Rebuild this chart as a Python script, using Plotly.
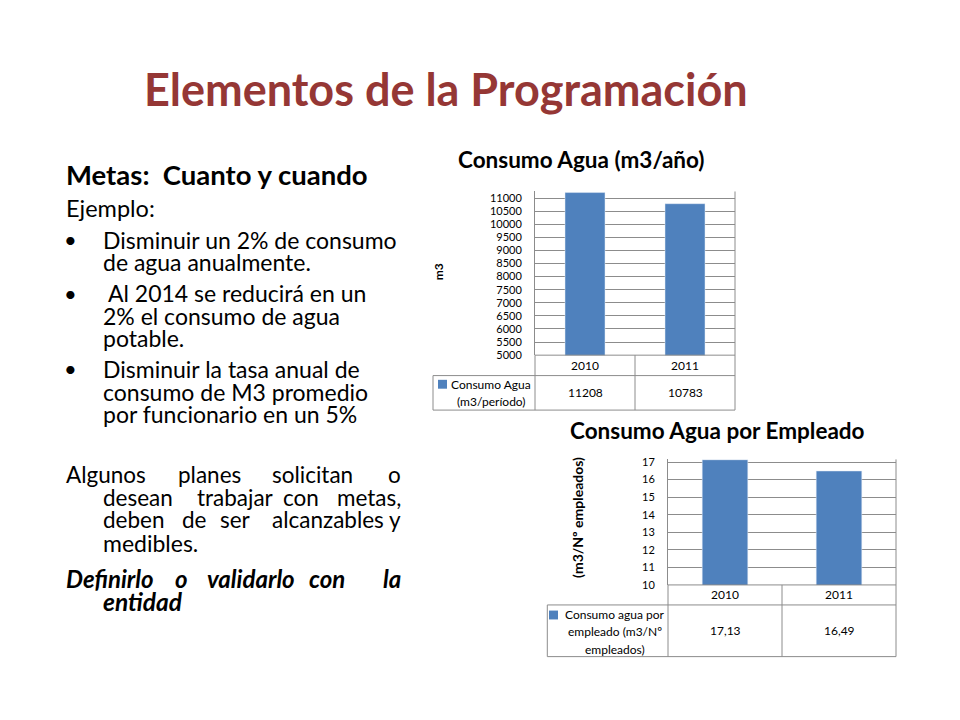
import plotly.graph_objects as go

# ---------------- data ----------------
years = ["2010", "2011"]
consumo_agua = [11208, 10783]          # m3 / periodo
consumo_empleado = [17.13, 16.49]      # m3 / Nº empleados

title_main = "Elementos de la Programación"
chart1_title = "Consumo Agua (m3/año)"
chart1_ytitle = "m3"
chart1_series = ["Consumo Agua", "(m3/período)"]
chart2_title = "Consumo Agua por Empleado"
chart2_ytitle = "(m3/Nº empleados)"
chart2_series = ["Consumo agua por", "empleado (m3/Nº", "empleados)"]

W, H = 960, 720
OFF = 8  # browser body margin
BLUE = "#4F81BD"
GRID = "#8C8C8C"
RED = "#953735"
FONT = "Lato"


def px(x):
    return (x - OFF) / W


def py(y):
    return 1 - (y - OFF) / H


fig = go.Figure()

c1 = dict(l=535, r=735, t=190, b=356, row1=376.7, row2=411.7, tl=433)
c2 = dict(l=668, r=896, t=461.7, b=589, row1=609.3, row2=661.7, tl=547.3)

fig.add_trace(go.Bar(x=years, y=consumo_agua, marker_color=BLUE, xaxis="x", yaxis="y",
                     showlegend=False, hoverinfo="skip"))
fig.add_trace(go.Bar(x=years, y=consumo_empleado, marker_color=BLUE, xaxis="x2", yaxis="y2",
                     showlegend=False, hoverinfo="skip"))

axis_common = dict(showgrid=True, gridcolor=GRID, gridwidth=1, showline=True, linecolor=GRID,
                   linewidth=1, ticks="", zeroline=False, tickformat="d",
                   ticklabelstandoff=10,
                   tickfont=dict(family=FONT, size=11, color="#000"))
xcommon = dict(type="category", showticklabels=False, showgrid=False, showline=False,
               zeroline=False, range=[-0.5, 1.5])

fig.update_layout(
    width=W, height=H, margin=dict(l=0, r=0, t=0, b=0),
    paper_bgcolor="white", plot_bgcolor="white", bargap=0.6,
    xaxis=dict(domain=[px(c1["l"]), px(c1["r"])], anchor="y", **xcommon),
    yaxis=dict(domain=[py(c1["b"]), py(c1["t"])], anchor="x", range=[5000, 11250],
               dtick=500, tick0=5000, **axis_common),
    xaxis2=dict(domain=[px(c2["l"]), px(c2["r"])], anchor="y2", **xcommon),
    yaxis2=dict(domain=[py(c2["b"]), py(c2["t"])], anchor="x2", range=[10, 17.15],
                dtick=1, tick0=10, **axis_common),
)

shapes = []
annotations = []


def line(x0, y0, x1, y1, xref="paper"):
    shapes.append(dict(type="line", xref=xref, yref="paper", x0=x0, x1=x1, y0=y0, y1=y1,
                       line=dict(color=GRID, width=1)))


def ann(x, y, s, size, anchor="center", xref="paper", angle=0, color="#000"):
    annotations.append(dict(x=x, xref=xref, y=y, yref="paper", text=s, showarrow=False,
                            xanchor=anchor, yanchor="middle", textangle=angle,
                            borderpad=0, borderwidth=0,
                            font=dict(family=FONT, size=size, color=color)))


def table(c, xref, values, fmt, series_lines, row2_lines_y, fs):
    line(px(c["l"]), py(c["b"]), px(c["r"]), py(c["b"]))
    line(px(c["tl"]), py(c["row1"]), px(c["r"]), py(c["row1"]))
    line(px(c["tl"]), py(c["row2"]), px(c["r"]), py(c["row2"]))
    line(px(c["tl"]), py(c["row1"]), px(c["tl"]), py(c["row2"]))
    line(px(c["l"]), py(c["b"]), px(c["l"]), py(c["row2"]))
    line(px(c["r"]), py(c["t"]), px(c["r"]), py(c["row2"]))
    line(0.5, py(c["b"]), 0.5, py(c["row2"]), xref=xref)
    mid1 = (c["b"] + c["row1"]) / 2
    mid2 = (c["row1"] + c["row2"]) / 2
    for i, (yr, v) in enumerate(zip(years, values)):
        ann(i, py(mid1), yr, fs, xref=xref)
        ann(i, py(mid2), fmt(v), fs, xref=xref)
    cx = (c["tl"] + 10 + c["l"]) / 2 + 2
    for t, yy in zip(series_lines, row2_lines_y):
        ann(px(cx), py(yy), t, fs)


table(c1, "x", consumo_agua, lambda v: f"{v}", chart1_series, [386, 403], 12)
table(c2, "x2", consumo_empleado, lambda v: f"{v:.2f}".replace(".", ","), chart2_series,
      [619, 636.5, 654], 12)

shapes.append(dict(type="rect", xref="paper", yref="paper", x0=px(438), x1=px(447),
                   y0=py(390), y1=py(381), fillcolor=BLUE, line=dict(width=0)))
shapes.append(dict(type="rect", xref="paper", yref="paper", x0=px(549), x1=px(558),
                   y0=py(624), y1=py(615), fillcolor=BLUE, line=dict(width=0)))

ann(px(581), py(158), f"<b>{chart1_title}</b>", 22.5)
ann(px(717), py(432), f"<b>{chart2_title}</b>", 22.5)
ann(px(438), py(272), f"<b>{chart1_ytitle}</b>", 12, angle=-90)
ann(px(578), py(521), f"<b>{chart2_ytitle}</b>", 14, angle=-90)

ann(px(446), py(86), f"<b>{title_main}</b>", 45, color=RED)


def txt(x, y, s, size=23, anchor="left", bold=False, italic=False):
    if bold:
        s = f"<b>{s}</b>"
    if italic:
        s = f"<i>{s}</i>"
    ann(px(x), py(y), s, size, anchor=anchor)


txt(66, 173, "Metas:&nbsp;&nbsp;Cuanto y cuando", size=27.5, bold=True)
txt(66, 207, "Ejemplo:", size=23.5)
for yb in (239, 293, 370):
    txt(64, yb, "•", size=22)
lines = [
    (103, 239, "Disminuir un 2% de consumo"),
    (103, 262, "de agua anualmente."),
    (108, 293, "Al 2014 se reducirá en un"),
    (103, 316, "2% el consumo de agua"),
    (103, 339, "potable."),
    (103, 370, "Disminuir la tasa anual de"),
    (103, 393, "consumo de M3 promedio"),
    (103, 416, "por funcionario en un 5%"),
    (103, 546, "medibles."),
]
for x, y, s in lines:
    txt(x, y, s)

# justified lines: word left edges, last word right-aligned
just = [
    (477, [(66, "left", "Algunos"), (178, "left", "planes"), (272, "left", "solicitan"), (401, "right", "o")]),
    (500, [(103, "left", "desean"), (197, "left", "trabajar"), (283, "left", "con"), (401, "right", "metas,")]),
    (523, [(103, "left", "deben"), (182, "left", "de"), (220, "left", "ser"), (272, "left", "alcanzables"), (401, "right", "y")]),
]
for y, words in just:
    for x, a, w in words:
        txt(x, y, w, size=22.5, anchor=a)

for x, a, w in [(66, "left", "Definirlo"), (175, "left", "o"), (207, "left", "validarlo"),
                (309, "left", "con"), (401, "right", "la")]:
    txt(x, 582, w, size=24, anchor=a, bold=True, italic=True)
txt(103, 606, "entidad", size=24.5, bold=True, italic=True)

fig.update_layout(shapes=shapes, annotations=annotations)
fig.write_html("out.html")
